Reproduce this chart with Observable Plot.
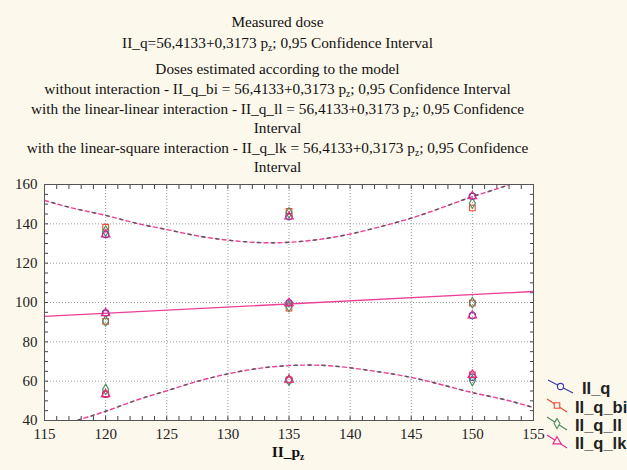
<!DOCTYPE html>
<html><head><meta charset="utf-8">
<script src="https://cdn.jsdelivr.net/npm/d3@7"></script>
<script src="https://cdn.jsdelivr.net/npm/@observablehq/plot@0.6"></script>
<style>
body{margin:0;background:#fdf8ec;}
#wrap{position:relative;width:627px;height:470px;background:#fdf8ec;overflow:hidden;}
.t{position:absolute;left:0;width:555px;text-align:center;font-family:"Liberation Serif","Times New Roman",serif;font-size:15.3px;line-height:20px;color:#111;white-space:nowrap;}
.t sub{font-size:9.5px;vertical-align:-3px;line-height:0;}
#plot{position:absolute;left:0;top:170px;}
#legend{position:absolute;left:0;top:0;}
#xlab{position:absolute;left:238px;width:100px;text-align:center;top:442px;font-family:"Liberation Serif",serif;font-weight:bold;font-size:15.5px;line-height:20px;color:#111;}
#xlab sub{font-size:9.5px;vertical-align:-3px;line-height:0;}
</style></head><body>
<div id="wrap">
<div class="t" style="top:12px">Measured dose</div>
<div class="t" style="top:33px">II_q=56,4133+0,3173 p<sub>z</sub>; 0,95 Confidence Interval</div>
<div class="t" style="top:59px">Doses estimated according to the model</div>
<div class="t" style="top:79px">without interaction - II_q_bi = 56,4133+0,3173 p<sub>z</sub>; 0,95 Confidence Interval</div>
<div class="t" style="top:99px">with the linear-linear interaction - II_q_ll = 56,4133+0,3173 p<sub>z</sub>; 0,95 Confidence</div>
<div class="t" style="top:118px">Interval</div>
<div class="t" style="top:138px">with the linear-square interaction - II_q_lk = 56,4133+0,3173 p<sub>z</sub>; 0,95 Confidence</div>
<div class="t" style="top:157px">Interval</div>
<div id="plot"></div>
<div id="xlab">II_p<sub>z</sub></div>
<svg id="legend" width="627" height="470"></svg>
</div>
<script>
// ---- data ----
const pz = [120,120,120,135,135,135,150,150,150];
const IIq    = [134.6, 94.6, 53.4, 143.7, 99.7, 60.7, 154.0, 93.4, 62.0];
const IIq_bi = [138.3, 90.4, 53.4, 146.3, 97.1, 60.7, 148.1, 99.7, 63.2];
const IIq_ll = [136.3, 90.6, 55.8, 145.6, 98.0, 60.5, 150.5, 99.9, 60.3];
const IIq_lk = [134.6, 94.6, 53.4, 143.7, 99.7, 60.7, 154.0, 93.4, 63.2];
const seriesNames = ["II_q","II_q_bi","II_q_ll","II_q_lk"];
const seriesColors = ["#3a3aa8","#f04a32","#4a8a5a","#e8288c"];
const seriesSymbols = ["circle","square","diamond","triangle"];
// fitted line
const fitP = [115, 155];
const fitY = [92.9, 105.6];
// confidence curves
const ciP     = [115,117.5,120,122.5,125,127.5,130,132.5,135,137.5,140,142.5,145,147.5,150,152.5,155];
const ciUpper = [151.9,147.7,144.3,140.3,137.1,133.9,131.7,130.5,130.6,132.1,134.8,138.6,142.9,148.2,153.8,158.8,164.6];
const ciLower = [33.9,39.7,44.7,50.3,55.1,59.9,63.7,66.5,67.9,68.1,66.8,64.6,61.9,58.2,54.2,50.8,46.6];
const xTicks = [115,120,125,130,135,140,145,150,155];
const yTicks = [40,60,80,100,120,140,160];

// ---- build tables ----
const allSeries = [IIq, IIq_bi, IIq_ll, IIq_lk];
const pts = [];
allSeries.forEach((arr, s) => arr.forEach((v, i) => pts.push({p: pz[i], v, s: seriesNames[s]})));
const fit = fitP.map((p, i) => ({p, y: fitY[i]}));
const ci = ciP.map((p, i) => ({p, u: ciUpper[i], l: ciLower[i]}));
const pink = "#ec3f97";
const serif = "Liberation Serif, Times New Roman, serif";

const chart = Plot.plot({
  width: 627, height: 300,
  marginLeft: 44, marginRight: 94, marginTop: 14, marginBottom: 50,
  style: {background: "transparent", fontFamily: serif, fontSize: "15px", color: "#222"},
  x: {domain: [115, 155]},
  y: {domain: [40, 160]},
  color: {domain: seriesNames, range: seriesColors},
  symbol: {domain: seriesNames, range: seriesSymbols},
  marks: [
    Plot.frame({fill: "white", stroke: "none"}),
    Plot.gridX(xTicks, {stroke: "#999", strokeOpacity: 1, strokeDasharray: "1,2"}),
    Plot.gridY(yTicks, {stroke: "#999", strokeOpacity: 1, strokeDasharray: "1,2"}),
    Plot.axisX({ticks: d3.range(115, 156, 1), tickSize: -4, tickFormat: () => "", label: null, stroke: "#444"}),
    Plot.axisX({ticks: d3.range(115, 156, 1), anchor: "top", tickSize: -4, tickFormat: () => "", label: null, stroke: "#444"}),
    Plot.axisY({ticks: d3.range(40, 161, 5), tickSize: -4, tickFormat: () => "", label: null, stroke: "#444"}),
    Plot.axisY({ticks: d3.range(40, 161, 5), anchor: "right", tickSize: -4, tickFormat: () => "", label: null, stroke: "#444"}),
    Plot.axisX({ticks: xTicks, tickSize: 0, tickPadding: 8, label: null, fontSize: 15, fill: "#222"}),
    Plot.axisY({ticks: yTicks, tickSize: 0, tickPadding: 7, label: null, fontSize: 15, fill: "#222"}),
    Plot.line(ci, {x: "p", y: "u", stroke: pink, strokeWidth: 1.4, strokeDasharray: "4,3", curve: "natural", clip: true}),
    Plot.line(ci, {x: "p", y: "u", stroke: "#3f6650", strokeWidth: 1.4, strokeDasharray: "2,12", strokeDashoffset: 6, curve: "natural", clip: true}),
    Plot.line(ci, {x: "p", y: "l", stroke: pink, strokeWidth: 1.4, strokeDasharray: "4,3", curve: "natural", clip: true}),
    Plot.line(ci, {x: "p", y: "l", stroke: "#3f6650", strokeWidth: 1.4, strokeDasharray: "2,12", strokeDashoffset: 6, curve: "natural", clip: true}),
    Plot.line(fit, {x: "p", y: "y", stroke: pink, strokeWidth: 1.3}),
    Plot.dot(pts, {x: "p", y: "v", stroke: "s", symbol: "s", r: 3.2, strokeWidth: 1.1, fill: "none"}),
    Plot.frame({stroke: "#555", strokeWidth: 1})
  ]
});
document.getElementById("plot").appendChild(chart);

// ---- legend ----
const leg = d3.select("#legend");
const legY = [388, 407, 425, 443];
const legX0 = [548, 547, 547, 547];
const legX1 = [573, 567, 567, 567];
const legTx = [582, 575, 575, 575];
seriesNames.forEach((name, i) => {
  const y = legY[i];
  const x0 = legX0[i], x1 = legX1[i];
  leg.append("line").attr("x1", x0).attr("y1", y - 8).attr("x2", x1).attr("y2", y + 5)
    .attr("stroke", seriesColors[i]).attr("stroke-width", 1.1);
  const sym = d3.symbol(
    {circle: d3.symbolCircle, square: d3.symbolSquare, diamond: d3.symbolDiamond, triangle: d3.symbolTriangle}[seriesSymbols[i]], 30);
  const mx = (x0 + x1) / 2, my = y - 1.5;
  leg.append("path").attr("d", sym()).attr("transform", `translate(${mx},${my})`)
    .attr("fill", "#fdf8ec").attr("stroke", seriesColors[i]).attr("stroke-width", 1.1);
  leg.append("text").attr("x", legTx[i]).attr("y", y + 6).text(name)
    .attr("font-family", "Liberation Sans, Arial, sans-serif").attr("font-weight", "bold")
    .attr("font-size", 16.5).attr("fill", "#222");
});
</script>
</body></html>
